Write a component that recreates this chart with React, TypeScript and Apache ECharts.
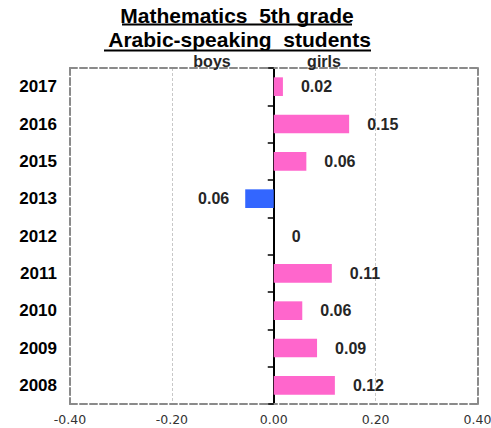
import React, { useEffect, useRef } from "react";
import * as echarts from "echarts";

const years = ["2017", "2016", "2015", "2013", "2012", "2011", "2010", "2009", "2008"];
const boys: (number | null)[] = [null, null, null, -0.056, null, null, null, null, null];
const girls: (number | null)[] = [0.018, 0.148, 0.064, null, 0, 0.114, 0.056, 0.085, 0.12];
const titleLines = ["Mathematics  5th grade", " Arabic-speaking  students"];
const xMin = -0.4;
const xMax = 0.4;
const xStep = 0.2;

const fmtLabel = (v: number) => (v === 0 ? "0" : Math.abs(v).toFixed(2));

export default function App() {
  const ref = useRef<HTMLDivElement>(null);
  useEffect(() => {
    if (!ref.current) return;
    const chart = echarts.init(ref.current, undefined, { renderer: "svg" });
    const font = "Liberation Sans";
    const border = { show: true, lineStyle: { color: "#8a8a8a", width: 2, type: [7, 3] as any } };
    const catBase = {
      type: "category" as const,
      data: years,
      inverse: true,
      boundaryGap: true,
    };
    chart.setOption({
      animation: false,
      grid: { left: 70, right: 13.5, top: 68, bottom: 24, containLabel: false, outerBoundsMode: "none" },
      xAxis: [
        {
          type: "value",
          min: xMin,
          max: xMax,
          interval: xStep,
          position: "bottom",
          axisLine: { ...border, onZero: false },
          axisTick: { show: false },
          axisLabel: {
            formatter: (v: number) => v.toFixed(2),
            fontFamily: "DejaVu Sans",
            fontSize: 12.5,
            color: "#333",
            margin: 9,
            showMinLabel: true,
            showMaxLabel: true,
            hideOverlap: false,
          },
          splitLine: { show: true, lineStyle: { color: "#c8c8c8", width: 1, type: [3, 2] } },
        },
        {
          type: "value",
          min: xMin,
          max: xMax,
          interval: xStep,
          position: "top",
          axisLine: { ...border, onZero: false },
          axisTick: { show: false },
          axisLabel: { show: false },
          splitLine: { show: false },
        },
      ],
      yAxis: [
        {
          ...catBase,
          position: "left",
          axisLine: { ...border, onZero: false },
          axisTick: { show: false },
          axisLabel: { fontFamily: font, fontSize: 17, fontWeight: "bold", color: "#000", margin: 13 },
        },
        {
          ...catBase,
          position: "right",
          axisLine: { ...border, onZero: false },
          axisTick: { show: false },
          axisLabel: { show: false },
        },
        {
          ...catBase,
          position: "left",
          axisLine: { show: true, onZero: true, lineStyle: { color: "#000", width: 2 } },
          axisTick: { show: true, length: 6, lineStyle: { color: "#000", width: 1.5 } },
          axisLabel: { show: false },
        },
      ],
      series: [
        {
          name: "boys",
          type: "bar",
          yAxisIndex: 2,
          data: boys,
          barWidth: "50%",
          barGap: "-100%",
          itemStyle: { color: "#3366ff" },
          label: {
            show: true,
            position: "left",
            distance: 16,
            formatter: (p: any) => fmtLabel(p.value),
            fontFamily: font,
            fontSize: 16,
            fontWeight: "bold",
            color: "#262626",
          },
        },
        {
          name: "girls",
          type: "bar",
          yAxisIndex: 2,
          data: girls,
          barWidth: "50%",
          barGap: "-100%",
          itemStyle: { color: "#ff66cc" },
          label: {
            show: true,
            position: "right",
            distance: 18,
            formatter: (p: any) => fmtLabel(p.value),
            fontFamily: font,
            fontSize: 16,
            fontWeight: "bold",
            color: "#262626",
          },
        },
      ],
      graphic: [
        {
          type: "text",
          x: 237,
          y: 15.2,
          style: {
            text: titleLines[0],
            fontFamily: font,
            fontSize: 21,
            fontWeight: "bold",
            fill: "#000",
            align: "center",
            verticalAlign: "middle",
          },
        },
        {
          type: "text",
          x: 237,
          y: 39.7,
          style: {
            text: titleLines[1],
            fontFamily: font,
            fontSize: 21,
            fontWeight: "bold",
            fill: "#000",
            align: "center",
            verticalAlign: "middle",
          },
        },
        { type: "line", shape: { x1: 122, y1: 24.5, x2: 352, y2: 24.5 }, style: { stroke: "#000", lineWidth: 2 } },
        { type: "line", shape: { x1: 104, y1: 50.5, x2: 371, y2: 50.5 }, style: { stroke: "#000", lineWidth: 2 } },
        {
          type: "text",
          x: 212,
          y: 61.5,
          z: 10,
          style: {
            text: "boys",
            fontFamily: font,
            fontSize: 16,
            fontWeight: "bold",
            fill: "#262626",
            align: "center",
            verticalAlign: "middle",
          },
        },
        {
          type: "text",
          x: 324,
          y: 61.5,
          z: 10,
          style: {
            text: "girls",
            fontFamily: font,
            fontSize: 16,
            fontWeight: "bold",
            fill: "#262626",
            align: "center",
            verticalAlign: "middle",
          },
        },
      ],
    });
    return () => chart.dispose();
  }, []);
  return <div ref={ref} style={{ width: 491, height: 428, position: "absolute", left: 0, top: 0 }} />;
}
